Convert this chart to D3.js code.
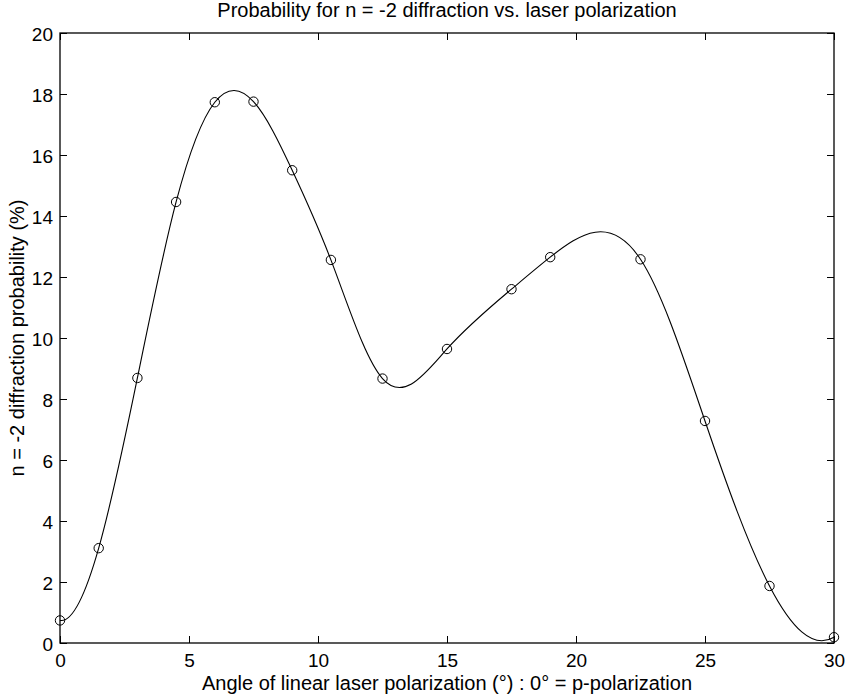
<!DOCTYPE html>
<html><head><meta charset="utf-8">
<script src="https://cdn.jsdelivr.net/npm/d3@7"></script>
<style>body{margin:0;background:#fff}svg{display:block}</style>
</head><body>
<svg id="chart" width="846" height="698"></svg>
<script>
// ---- data ----
const angles = [0, 1.5, 3, 4.5, 6, 7.5, 9, 10.5, 12.5, 15, 17.5, 19, 22.5, 25, 27.5, 30];
const probability = [0.74, 3.11, 8.69, 14.46, 17.73, 17.75, 15.5, 12.56, 8.67, 9.64, 11.6, 12.65, 12.58, 7.28, 1.87, 0.19];
const xTicks = [0, 5, 10, 15, 20, 25, 30];
const yTicks = [0, 2, 4, 6, 8, 10, 12, 14, 16, 18, 20];
const titleText = "Probability for n = -2 diffraction vs. laser polarization";
const xLabelText = "Angle of linear laser polarization (°) : 0° = p-polarization";
const yLabelText = "n = -2 diffraction probability (%)";

// ---- not-a-knot cubic spline curve for d3.line ----
function NotAKnot(ctx) { this._context = ctx; }
NotAKnot.prototype = {
  areaStart() { this._line = 0; },
  areaEnd() { this._line = NaN; },
  lineStart() { this._x = []; this._y = []; },
  point(x, y) { this._x.push(+x); this._y.push(+y); },
  lineEnd() {
    const x = this._x, y = this._y, n = x.length, c = this._context;
    if (!n) return;
    c.moveTo(x[0], y[0]);
    if (n < 4) { for (let i = 1; i < n; i++) c.lineTo(x[i], y[i]); return; }
    const h = []; for (let i = 0; i < n - 1; i++) h.push(x[i + 1] - x[i]);
    const A = Array.from({length: n}, () => new Array(n).fill(0));
    const b = new Array(n).fill(0);
    A[0][0] = h[1]; A[0][1] = -(h[0] + h[1]); A[0][2] = h[0];
    for (let i = 1; i < n - 1; i++) {
      A[i][i - 1] = h[i - 1]; A[i][i] = 2 * (h[i - 1] + h[i]); A[i][i + 1] = h[i];
      b[i] = 6 * ((y[i + 1] - y[i]) / h[i] - (y[i] - y[i - 1]) / h[i - 1]);
    }
    A[n - 1][n - 3] = h[n - 2]; A[n - 1][n - 2] = -(h[n - 3] + h[n - 2]); A[n - 1][n - 1] = h[n - 3];
    for (let k = 0; k < n; k++) {
      let p = k;
      for (let r = k + 1; r < n; r++) if (Math.abs(A[r][k]) > Math.abs(A[p][k])) p = r;
      [A[k], A[p]] = [A[p], A[k]]; [b[k], b[p]] = [b[p], b[k]];
      for (let r = k + 1; r < n; r++) {
        const f = A[r][k] / A[k][k];
        if (!f) continue;
        for (let cc = k; cc < n; cc++) A[r][cc] -= f * A[k][cc];
        b[r] -= f * b[k];
      }
    }
    const M = new Array(n).fill(0);
    for (let k = n - 1; k >= 0; k--) {
      let s = b[k];
      for (let cc = k + 1; cc < n; cc++) s -= A[k][cc] * M[cc];
      M[k] = s / A[k][k];
    }
    for (let i = 0; i < n - 1; i++) {
      const hi = h[i], s = (y[i + 1] - y[i]) / hi;
      const d0 = s - hi * (2 * M[i] + M[i + 1]) / 6;
      const d1 = s + hi * (M[i] + 2 * M[i + 1]) / 6;
      c.bezierCurveTo(x[i] + hi / 3, y[i] + d0 * hi / 3, x[i + 1] - hi / 3, y[i + 1] - d1 * hi / 3, x[i + 1], y[i + 1]);
    }
  }
};
const curveNotAKnot = ctx => new NotAKnot(ctx);

// ---- layout ----
const L = 60, R = 834, T = 33, B = 643;
const svg = d3.select("#chart");
const x = d3.scaleLinear().domain([0, 30]).range([L, R]);
const y = d3.scaleLinear().domain([0, 20]).range([B, T]);
const font = "'Liberation Sans', Arial, Helvetica, sans-serif";
const tickFont = 19, labelFont = 20;

svg.append("rect").attr("width", 846).attr("height", 698).attr("fill", "#fff");

function styleAxis(g) {
  g.select(".domain").remove();
  g.selectAll(".tick line").attr("stroke", "#000").attr("stroke-width", 1);
  g.selectAll(".tick text").attr("fill", "#000").attr("font-family", font).attr("font-size", tickFont);
}
svg.append("g").attr("transform", `translate(0,${B})`)
  .call(d3.axisBottom(x).tickValues(xTicks).tickSize(-7).tickSizeOuter(0).tickPadding(11).tickFormat(d3.format("d")))
  .call(styleAxis);
svg.append("g").attr("transform", `translate(0,${T})`)
  .call(d3.axisTop(x).tickValues(xTicks).tickSize(-7).tickSizeOuter(0).tickFormat(""))
  .call(styleAxis);
svg.append("g").attr("transform", `translate(${L},0)`)
  .call(d3.axisLeft(y).tickValues(yTicks).tickSize(-7).tickSizeOuter(0).tickPadding(7).tickFormat(d3.format("d")))
  .call(styleAxis)
  .call(g => g.selectAll(".tick text").attr("dy", "0.42em"));
svg.append("g").attr("transform", `translate(${R},0)`)
  .call(d3.axisRight(y).tickValues(yTicks).tickSize(-7).tickSizeOuter(0).tickFormat(""))
  .call(styleAxis);

svg.append("rect").attr("x", L).attr("y", T).attr("width", R - L).attr("height", B - T)
  .attr("fill", "none").attr("stroke", "#000").attr("stroke-width", 1.3);

const pts = angles.map((a, i) => [a, probability[i]]);
const line = d3.line().x(d => x(d[0])).y(d => y(d[1])).curve(curveNotAKnot);
svg.append("path").datum(pts).attr("d", line)
  .attr("fill", "none").attr("stroke", "#000").attr("stroke-width", 1.1);

svg.append("g").selectAll("circle").data(pts).join("circle")
  .attr("cx", d => x(d[0])).attr("cy", d => y(d[1])).attr("r", 4.7)
  .attr("fill", "none").attr("stroke", "#000").attr("stroke-width", 1);

svg.append("text").attr("x", (L + R) / 2).attr("y", 17).attr("text-anchor", "middle")
  .attr("font-family", font).attr("font-size", labelFont).attr("fill", "#000").text(titleText);
svg.append("text").attr("x", (L + R) / 2).attr("y", 690).attr("text-anchor", "middle")
  .attr("font-family", font).attr("font-size", labelFont).attr("fill", "#000").text(xLabelText);
svg.append("text").attr("transform", `translate(24,${(T + B) / 2}) rotate(-90)`).attr("text-anchor", "middle")
  .attr("font-family", font).attr("font-size", labelFont).attr("fill", "#000").text(yLabelText);
</script>
</body></html>
